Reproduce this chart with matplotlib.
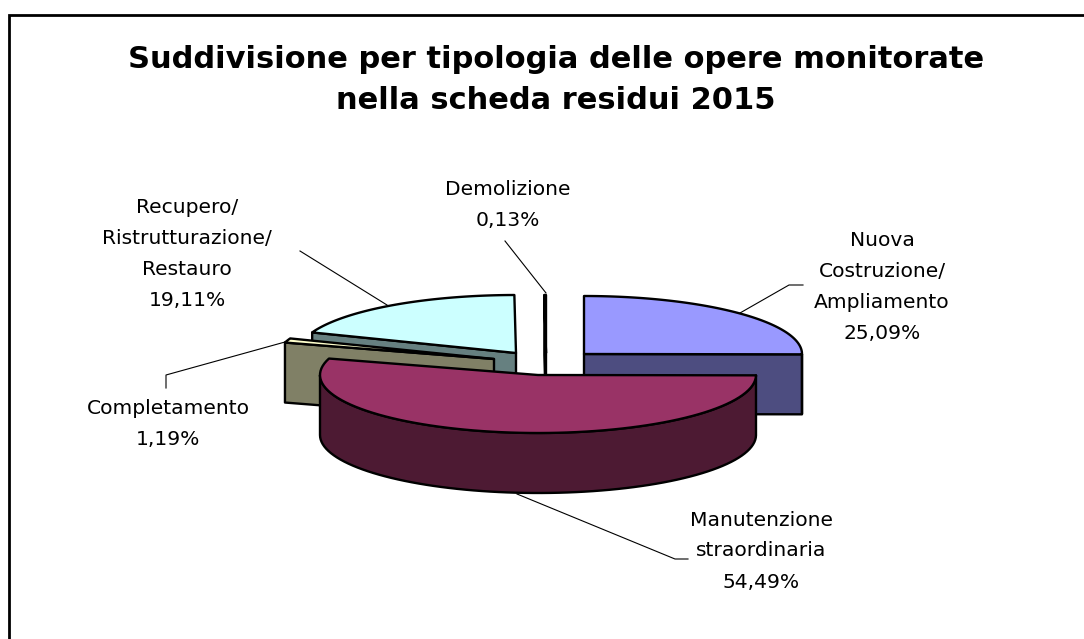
#!/usr/bin/env python3
# -*- coding: utf-8 -*-
"""
Suddivisione per tipologia delle opere - exploded 3D pie drawn by hand
"""

import numpy as np
import matplotlib

matplotlib.use("Agg")
import matplotlib.pyplot as plt
from matplotlib.patches import Polygon

# data
categories = [
    "Nuova\nCostruzione/\nAmpliamento",
    "Manutenzione\nstraordinaria",
    "Completamento",
    "Recupero/\nRistrutturazione/\nRestauro",
    "Demolizione",
]
shares = [25.09, 54.49, 1.19, 19.11, 0.13]
title = "Suddivisione per tipologia delle opere monitorate\nnella scheda residui 2015"

# styling
top_colors = ["#9999FF", "#993366", "#FFFFCC", "#CCFFFF", "#FFFFFF"]
side_colors = ["#4D4D80", "#4D1A33", "#808066", "#668080", "#FFFFFF"]
LW = 1.7

# layout, in pixels of the 1084x639 picture
RX, RY, DEPTH = 218, 58, 60
apex_x = [584, 538, 494, 516, 546]
apex_y = [354, 375, 359, 353, 353]
label_x = [882, 761, 168, 187, 508]
label_y = [287, 551, 424, 254, 205]
leaders = [
    [(803, 285), (789, 285), (740, 313)],
    [(517, 494), (675, 559), (688, 559)],
    [(285, 342), (166, 375), (166, 388)],
    [(300, 251), (387, 305)],
    [(505, 241), (546, 293)],
]

fig = plt.figure(figsize=(10.84, 6.39), dpi=100)
ax = fig.add_axes([0, 0, 1, 1])
ax.set_xlim(0, 1084)
ax.set_ylim(639, 0)
ax.axis("off")

# chart frame: only left and top sides show
ax.plot([9, 9, 1084], [639, 15, 15], color="black", lw=2.0, solid_joinstyle="miter")

# slice angles clockwise from 12 o'clock
edges = np.concatenate([[0], np.cumsum(shares)]) / 100 * 2 * np.pi
edges[-1] = 2 * np.pi


def rim(i, a0, a1, n=80):
    a = np.linspace(a0, a1, n)
    return np.column_stack(
        [apex_x[i] + RX * np.sin(a), apex_y[i] - RY * np.cos(a)]
    )


def draw_slice(i):
    a0, a1 = edges[i], edges[i + 1]
    apex = np.array([[apex_x[i], apex_y[i]]])
    down = np.array([0, DEPTH])
    patch = dict(edgecolor="black", lw=LW, joinstyle="round")

    # radial walls that face the viewer
    for a, visible in [(a0, np.sin(a0) < 0), (a1, np.sin(a1) > 0)]:
        if visible:
            end = rim(i, a, a, 1)
            ax.add_patch(
                Polygon(
                    np.vstack([apex, end, end + down, apex + down]),
                    facecolor=side_colors[i],
                    **patch,
                )
            )
    # outer wall, front half of the rim only
    lo, hi = max(a0, np.pi / 2), min(a1, 3 * np.pi / 2)
    if hi > lo:
        arc = rim(i, lo, hi)
        ax.add_patch(
            Polygon(
                np.vstack([arc, (arc + down)[::-1]]),
                facecolor=side_colors[i],
                **patch,
            )
        )
    # top face
    ax.add_patch(
        Polygon(np.vstack([apex, rim(i, a0, a1)]), facecolor=top_colors[i], **patch)
    )


# back to front
for i in [3, 4, 0, 2, 1]:
    draw_slice(i)

# leader lines
for pts in leaders:
    xs, ys = zip(*pts)
    ax.plot(xs, ys, color="black", lw=0.8, zorder=5)

# labels
for i, cat in enumerate(categories):
    pct = f"{shares[i]:.2f}%".replace(".", ",")
    ax.text(
        label_x[i],
        label_y[i],
        f"{cat}\n{pct}",
        ha="center",
        va="center",
        fontsize=14.6,
        family="DejaVu Sans",
        color="black",
        linespacing=1.8,
    )

ax.text(
    556,
    80,
    title,
    ha="center",
    va="center",
    fontsize=21.95,
    fontweight="bold",
    family="DejaVu Sans",
    color="black",
    linespacing=1.5,
)

plt.savefig("out.png", dpi=100)
